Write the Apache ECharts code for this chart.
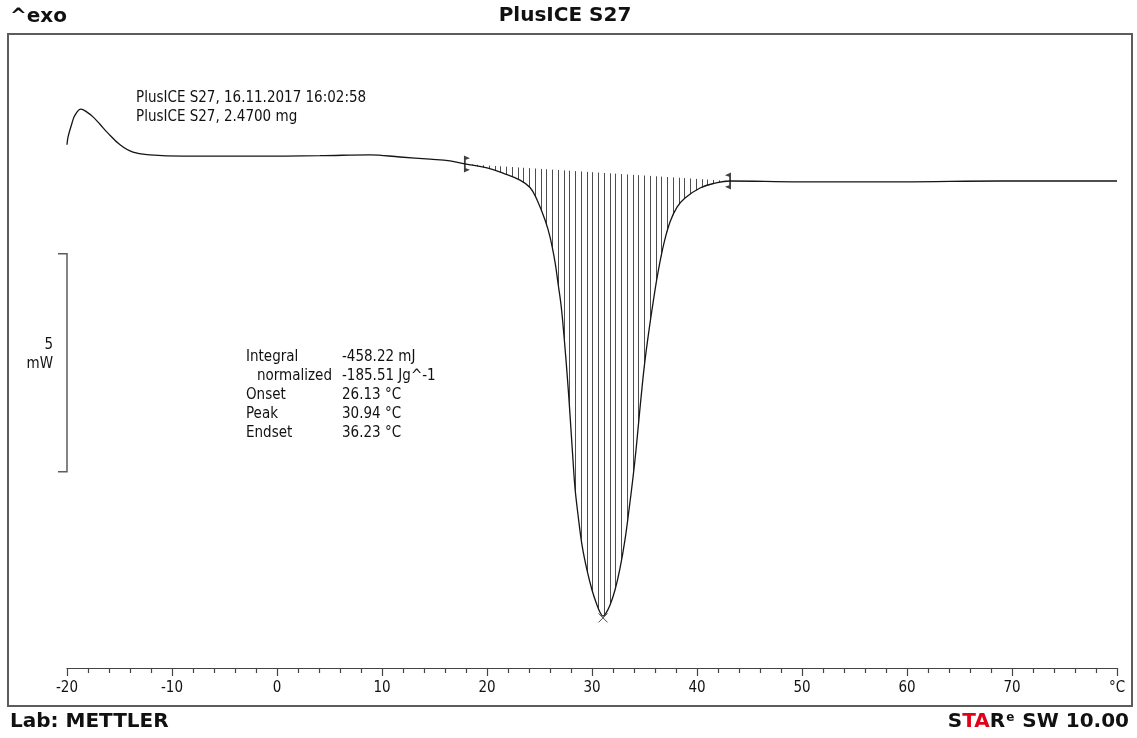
<!DOCTYPE html>
<html><head><meta charset="utf-8">
<script src="https://cdn.jsdelivr.net/npm/echarts@6/dist/echarts.min.js"></script>
<style>html,body{margin:0;padding:0;background:#fff}#c{width:1137px;height:738px}</style>
</head><body><div id="c"></div>
<script>
// ---- data (temperature in °C, heat flow in mW, arbitrary offset) ----
const temperature = [-20.0, -19.9, -19.52, -19.24, -18.67, -18.1, -17.52, -16.86, -16.19, -14.95, -13.71, -12.1, -8.95, -2.57, 4.1, 8.86, 11.71, 14.57, 16.48,
  17.9, 20.0, 21.52, 23.14, 24.1, 24.76, 25.52, 26.0, 26.48, 26.76, 27.05, 27.24, 27.43, 27.62, 27.81, 28.0, 28.19, 28.38, 28.67, 29.05, 29.52, 30.0, 30.48, 30.76,
  31.05, 31.33, 31.71, 32.19, 32.67, 33.14, 33.52, 33.9, 34.19, 34.48, 34.76, 35.05, 35.43, 35.81, 36.29, 36.86, 37.43, 38.1, 38.86, 40.29, 41.71, 43.14,
  49.81, 59.33, 68.86, 80.0];
const heatFlow = [12.00, 12.18, 12.50, 12.68, 12.82, 12.75, 12.64, 12.47, 12.29, 12.00, 11.83, 11.77, 11.74, 11.74, 11.75, 11.77, 11.72, 11.67, 11.63,
  11.56, 11.47, 11.35, 11.19, 11.02, 10.74, 10.28, 9.89, 9.31, 8.83, 8.33, 7.87, 7.34, 6.77, 6.15, 5.46, 4.77, 4.13, 3.51, 2.82, 2.25, 1.79, 1.44, 1.28,
  1.19, 1.26, 1.44, 1.79, 2.29, 2.94, 3.62, 4.36, 5.00, 5.73, 6.42, 7.06, 7.75, 8.37, 9.08, 9.75, 10.23, 10.57, 10.78, 11.01, 11.12, 11.17,
  11.15, 11.15, 11.17, 11.17];
const integrationLimits = [17.9, 43.14];
const peakPoint = [31.05, 1.15];
const scaleBar = [4.5, 9.5];           // 5 mW
const scaleLabels = ['5', 'mW'];
const xAxisRange = [-20, 80];
const xUnitLabel = '°C';
const sampleLines = ['PlusICE S27, 16.11.2017 16:02:58', 'PlusICE S27, 2.4700 mg'];
const statsLabels = ['Integral', 'normalized', 'Onset', 'Peak', 'Endset'];
const statsValues = ['-458.22 mJ', '-185.51 Jg^-1', '26.13 °C', '30.94 °C', '36.23 °C'];
const titleText = 'PlusICE S27';
const exoText = '^exo';
const labText = 'Lab: METTLER';

// ---- build ----
const points = temperature.map((t, i) => [t, heatFlow[i]]);
const hatchPoints = points.filter(p => p[0] >= integrationLimits[0] && p[0] <= integrationLimits[1]);
const limitPoints = points.filter(p => integrationLimits.includes(p[0]));

const SMALL = '"DejaVu Sans Condensed", "DejaVu Sans", sans-serif';
const BOLD = '"DejaVu Sans", sans-serif';

const pat = document.createElement('canvas');
pat.width = 23; pat.height = 4;
const g = pat.getContext('2d');
g.fillStyle = '#4d4d4d';
[0, 6, 12, 17].forEach(x => g.fillRect(x, 0, 1, 4));

const chart = echarts.init(document.getElementById('c'), null, {renderer: 'canvas'});

const graphics = [
  {type: 'rect', shape: {x: 8, y: 34, width: 1124, height: 672}, style: {fill: 'none', stroke: '#5c5c5c', lineWidth: 2}, z: 10},
  {type: 'text', x: 10, y: 17, style: {text: exoText, font: 'bold 20px ' + BOLD, fill: '#111', textVerticalAlign: 'middle'}},
  {type: 'text', x: 565, y: 16, style: {text: titleText, font: 'bold 20px ' + BOLD, fill: '#111', textAlign: 'center', textVerticalAlign: 'middle'}},
  {type: 'text', x: 10, y: 722, style: {text: labText, font: 'bold 20px ' + BOLD, fill: '#111', textVerticalAlign: 'middle'}},
  {type: 'text', x: 1129, y: 722, style: {
    text: '{b|S}{r|TA}{b|R}{s|e}{b| SW 10.00}', textAlign: 'right', textVerticalAlign: 'middle',
    rich: {
      b: {font: 'bold 20px ' + BOLD, fill: '#111'},
      r: {font: 'bold 20px ' + BOLD, fill: '#e1001a'},
      s: {font: 'bold 12px ' + BOLD, fill: '#111', verticalAlign: 'top', padding: [0, 1, 8, 1]}
    }}}
];
sampleLines.forEach((s, i) => graphics.push({type: 'text', x: 136, y: 98 + i * 19,
  style: {text: s, font: '15px ' + SMALL, fill: '#111', textVerticalAlign: 'middle'}}));
statsLabels.forEach((s, i) => {
  graphics.push({type: 'text', x: i === 1 ? 257 : 246, y: 357 + i * 19,
    style: {text: s, font: '15px ' + SMALL, fill: '#111', textVerticalAlign: 'middle'}});
  graphics.push({type: 'text', x: 342, y: 357 + i * 19,
    style: {text: statsValues[i], font: '15px ' + SMALL, fill: '#111', textVerticalAlign: 'middle'}});
});

const yMax = (668 - 34) / 43.6;

chart.setOption({
  animation: false,
  backgroundColor: '#fff',
  grid: {left: 67, right: 20, top: 34, bottom: 70, containLabel: false},
  xAxis: {
    type: 'value', min: xAxisRange[0], max: xAxisRange[1], interval: 10,
    axisLine: {show: true, lineStyle: {color: '#444', width: 1.2}},
    axisTick: {show: true, length: 8, lineStyle: {color: '#444', width: 1.2}},
    minorTick: {show: true, splitNumber: 5, length: 5, lineStyle: {color: '#444', width: 1.2}},
    splitLine: {show: false},
    axisLabel: {margin: 13, fontFamily: SMALL, fontSize: 15, color: '#111',
      formatter: v => v === xAxisRange[1] ? xUnitLabel : String(v)}
  },
  yAxis: {type: 'value', min: 0, max: yMax, show: false, splitLine: {show: false}},
  graphic: graphics,
  series: [
    {
      type: 'custom', silent: true, z: 1, data: [[0, 0]],
      renderItem: (params, api) => ({
        type: 'polygon',
        shape: {points: hatchPoints.map(p => api.coord(p))},
        style: {fill: {image: pat, repeat: 'repeat'}, stroke: null}
      })
    },
    {
      type: 'custom', silent: true, z: 3, data: [[0, 0]],
      renderItem: (params, api) => {
        const a = api.coord([xAxisRange[0], scaleBar[1]]);
        const b = api.coord([xAxisRange[0], scaleBar[0]]);
        const mid = (a[1] + b[1]) / 2;
        return {type: 'group', children: [
          {type: 'polyline', shape: {points: [[a[0] - 9, a[1]], [a[0], a[1]], [b[0], b[1]], [b[0] - 9, b[1]]]},
            style: {stroke: '#5c5c5c', lineWidth: 1.5, fill: null}},
          {type: 'text', x: a[0] - 14, y: mid - 18, style: {text: scaleLabels[0], font: '15px ' + SMALL, fill: '#111', textAlign: 'right', textVerticalAlign: 'middle'}},
          {type: 'text', x: a[0] - 14, y: mid + 1, style: {text: scaleLabels[1], font: '15px ' + SMALL, fill: '#111', textAlign: 'right', textVerticalAlign: 'middle'}}
        ]};
      }
    },
    {
      type: 'line', data: points, smooth: 0.4, symbol: 'none', z: 4,
      lineStyle: {color: '#151515', width: 1.3}
    },
    {
      type: 'scatter', z: 5, data: [limitPoints[0]],
      symbol: 'path://M0,0L5,2.5L1.5,4L1.5,12L5,13.5L0,16Z', symbolSize: [6, 17], symbolOffset: [2, 0],
      itemStyle: {color: '#111'}
    },
    {
      type: 'scatter', z: 5, data: [limitPoints[1]],
      symbol: 'path://M5,0L0,2.5L3.5,4L3.5,12L0,13.5L5,16Z', symbolSize: [6, 17], symbolOffset: [-2, 0],
      itemStyle: {color: '#111'}
    },
    {
      type: 'scatter', z: 5, data: [peakPoint],
      symbol: 'path://M0,0L10,10M10,0L0,10', symbolSize: 9,
      itemStyle: {color: 'none', borderColor: '#222', borderWidth: 1}
    }
  ]
});
</script>
</body></html>
